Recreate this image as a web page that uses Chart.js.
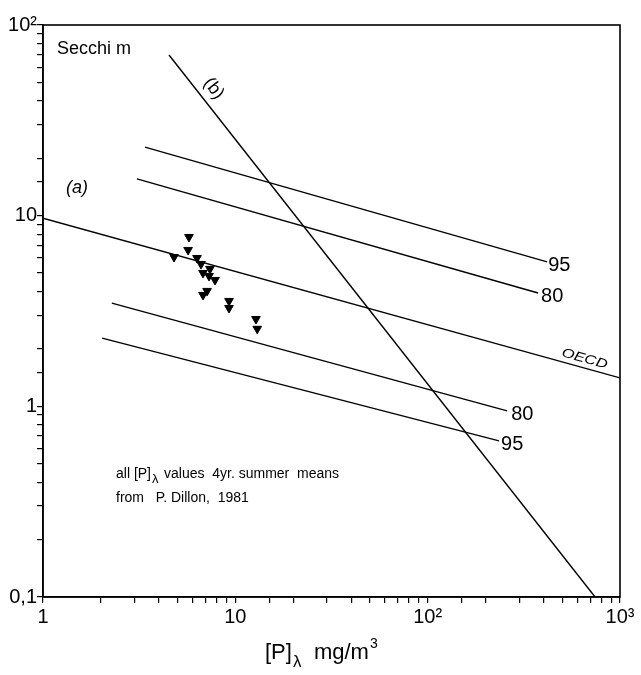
<!DOCTYPE html>
<html>
<head>
<meta charset="utf-8">
<script src="https://cdn.jsdelivr.net/npm/chart.js@4.4.0/dist/chart.umd.min.js"></script>
<style>
  html, body { margin: 0; padding: 0; background: #fff; }
  #wrap { width: 641px; height: 675px; }
</style>
</head>
<body>
<div id="wrap"><canvas id="chart" width="641" height="675"></canvas></div>
<script>
// lake data: mean summer P (mg/m3) vs Secchi depth (m)
const lakeP      = [5.74, 5.68, 4.80, 6.32, 6.63, 6.79, 7.38, 7.30, 7.84, 7.13, 6.79, 9.27, 9.27, 12.8, 13.0];
const lakeSecchi = [7.73, 6.61, 6.07, 6.00, 5.58, 5.01, 5.26, 4.83, 4.60, 4.03, 3.84, 3.57, 3.28, 2.87, 2.55];

// line endpoints (x = P, y = Secchi)
const lineB_X  = [4.52, 742];
const lineB_Y  = [69.6, 0.1];
const oecdX    = [1, 1000];
const oecdY    = [9.7, 1.41];
const up95X    = [3.39, 418];
const up95Y    = [22.9, 5.72];
const up80X    = [3.08, 375];
const up80Y    = [15.6, 3.93];
const lo80X    = [2.28, 259];
const lo80Y    = [3.48, 0.946];
const lo95X    = [2.03, 235];
const lo95Y    = [2.28, 0.659];

// tick labels
const xTickLabels = { 1: '1', 10: '10', 100: '10²', 1000: '10³' };
const yTickLabels = { '-1': '0,1', 0: '1', 1: '10', 2: '10²' };

const FONT = '"Liberation Sans", Arial, sans-serif';

const pts = (xs, ys) => xs.map((x, i) => ({ x, y: ys[i] }));
const lineSet = (xs, ys) => ({
  data: pts(xs, ys), showLine: true, borderColor: '#000', borderWidth: 1.4,
  pointRadius: 0, fill: false
});

const isPow10 = v => Math.abs(Math.log10(v) - Math.round(Math.log10(v))) < 1e-6;

// frame, labels and notes
const extras = {
  id: 'extras',
  afterDraw(chart) {
    const { ctx, chartArea: a, scales: { x, y } } = chart;
    ctx.save();
    ctx.strokeStyle = '#000';
    ctx.lineWidth = 1.6;
    ctx.strokeRect(a.left, a.top, a.right - a.left, a.bottom - a.top);

    ctx.fillStyle = '#000';
    ctx.textBaseline = 'alphabetic';
    const at = (px, py, s, size, opts = {}) => {
      ctx.save();
      ctx.font = `${opts.style || ''} ${size}px ${FONT}`;
      ctx.translate(px, py);
      if (opts.rot) ctx.rotate(opts.rot);
      if (opts.sx) ctx.scale(opts.sx, 1);
      ctx.textAlign = opts.align || 'left';
      ctx.fillText(s, 0, 0);
      ctx.restore();
    };

    at(57, 54, 'Secchi m', 18);
    at(66, 193, '(a)', 18, { style: 'italic' });
    at(203, 83, '(b)', 18, { rot: 52 * Math.PI / 180 });

    // line end labels
    const end = (xs, ys) => [x.getPixelForValue(xs[1]), y.getPixelForValue(ys[1])];
    let [px, py] = end(up95X, up95Y); at(px + 1, py + 9, '95', 20);
    [px, py] = end(up80X, up80Y);     at(px + 3, py + 9, '80', 20);
    [px, py] = end(lo80X, lo80Y);     at(px + 4, py + 9, '80', 20);
    [px, py] = end(lo95X, lo95Y);     at(px + 2, py + 9, '95', 20);
    at(561, 356, 'OECD', 13, { style: 'italic', rot: 15.5 * Math.PI / 180, sx: 1.25 });

    // note
    ctx.font = `14px ${FONT}`;
    ctx.fillText('all [P]', 116, 478);
    let w = ctx.measureText('all [P]').width;
    ctx.font = `13px ${FONT}`;
    ctx.fillText('λ', 116 + w + 1, 483);
    ctx.font = `14px ${FONT}`;
    ctx.fillText('values  4yr. summer  means', 116 + w + 13, 478);
    ctx.fillText('from   P. Dillon,  1981', 116, 502);

    // x title
    const tx = 265, ty = 659;
    ctx.font = `22px ${FONT}`;
    ctx.fillText('[P]', tx, ty);
    w = ctx.measureText('[P]').width;
    ctx.font = `17px ${FONT}`;
    ctx.fillText('λ', tx + w + 1, ty + 8);
    ctx.font = `22px ${FONT}`;
    ctx.fillText('mg/m', tx + w + 22, ty);
    const w2 = ctx.measureText('mg/m').width;
    ctx.font = `14px ${FONT}`;
    ctx.fillText('3', tx + w + 23 + w2, ty - 11);
    ctx.restore();
  }
};

new Chart(document.getElementById('chart'), {
  type: 'scatter',
  data: {
    datasets: [
      lineSet(lineB_X, lineB_Y),
      lineSet(oecdX, oecdY),
      lineSet(up95X, up95Y),
      lineSet(up80X, up80Y),
      lineSet(lo80X, lo80Y),
      lineSet(lo95X, lo95Y),
      {
        data: pts(lakeP, lakeSecchi), showLine: false,
        pointStyle: 'triangle', rotation: 180, pointRadius: 5,
        backgroundColor: '#000', borderColor: '#000', borderWidth: 1
      }
    ]
  },
  options: {
    responsive: false,
    animation: false,
    layout: { padding: { top: 25, right: 21, left: 0, bottom: 0 } },
    plugins: { legend: { display: false }, tooltip: { enabled: false } },
    scales: {
      x: {
        type: 'logarithmic', min: 1, max: 1000,
        afterFit: s => { s.height = 78; },
        border: { display: true, color: '#000', width: 1.6 },
        grid: { drawOnChartArea: false, drawTicks: true, tickLength: 6, color: '#000', lineWidth: 1.2 },
        ticks: {
          autoSkip: false, maxRotation: 0, color: '#000', padding: 2,
          font: { family: FONT, size: 20 },
          callback: v => isPow10(v) ? xTickLabels[Math.round(v)] : ''
        }
      },
      y: {
        type: 'logarithmic', min: 0.1, max: 100,
        afterFit: s => { s.width = 43; },
        border: { display: true, color: '#000', width: 1.6 },
        grid: { drawOnChartArea: false, drawTicks: true, tickLength: 6, color: '#000', lineWidth: 1.2 },
        ticks: {
          autoSkip: false, color: '#000', padding: 0,
          font: { family: FONT, size: 20 },
          callback: v => isPow10(v) ? yTickLabels[Math.round(Math.log10(v))] : ''
        }
      }
    }
  },
  plugins: [extras]
});
</script>
</body>
</html>
